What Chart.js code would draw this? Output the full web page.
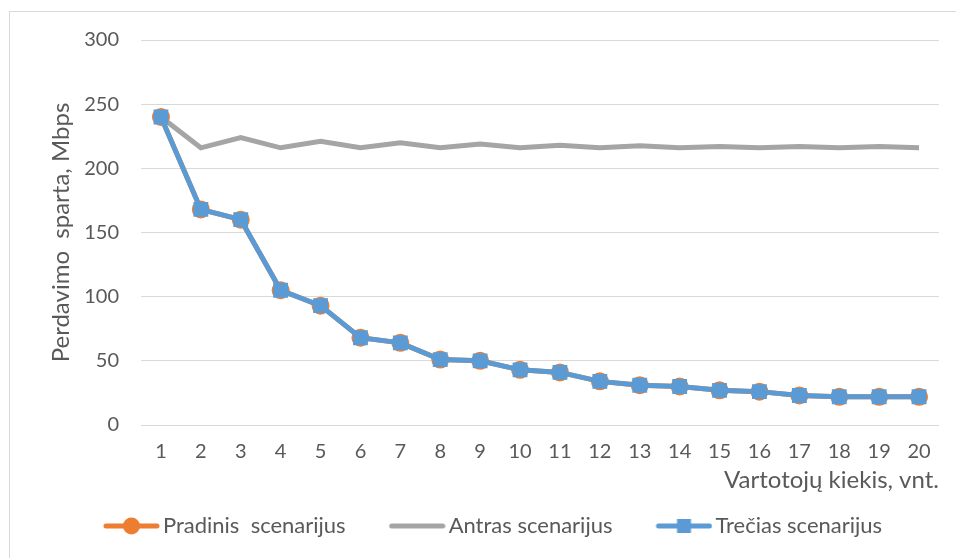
<!doctype html><html lang="lt">
<head>
<meta charset="utf-8">
<title>Perdavimo sparta</title>
<script src="https://cdn.jsdelivr.net/npm/chart.js@4"></script>
<style>
html,body{margin:0;padding:0;background:#fff}
#wrap{position:relative;width:956px;height:558px;overflow:hidden}
#frame{position:absolute;left:9px;top:11px;width:1000px;height:600px;border-left:1px solid #d9d9d9;border-top:1px solid #d9d9d9}
#c{position:absolute;left:0;top:0}
</style>
</head>
<body>
<div id="wrap"><div id="frame"></div><canvas id="c" width="956" height="558"></canvas></div>
<script>
// duomenys
const vartotojai=['1','2','3','4','5','6','7','8','9','10','11','12','13','14','15','16','17','18','19','20'];
const pradinis=[240,168,160,105,93,68,64,51,50,43,41,34,31,30,27,26,23,22,22,22];
const antras=[240,216,224,216,221,216,220,216,219,216,218,216,217.5,216,217,216,217,216,217,216];
const trecias=[240,168,160,105,93,68,64,51,50,43,41,34,31,30,27,26,23,22,22,22];
const yTicks=[0,50,100,150,200,250,300];

const ORANGE='#ED7D31',GRAY='#A5A5A5',BLUE='#5B9BD5',TXT='#595959';
const FONT='Lato';

// legendos ikonos: linija + žymeklis, kairėje tuščia vieta
function icon(color,mark){const cv=document.createElement('canvas');cv.width=88;cv.height=20;const x=cv.getContext('2d');const o=31;
x.strokeStyle=color;x.lineWidth=5;x.lineCap='round';x.beginPath();x.moveTo(o+3,10);x.lineTo(o+54,10);x.stroke();x.fillStyle=color;
if(mark==='circle'){x.beginPath();x.arc(o+28.5,10,8.5,0,Math.PI*2);x.fill()}
if(mark==='rect'){x.fillRect(o+21.5,3,14,14)}
return cv}
const icons=[icon(ORANGE,'circle'),icon(GRAY,null),icon(BLUE,'rect')];

new Chart(document.getElementById('c'),{type:'line',
data:{labels:vartotojai,datasets:[
{label:'Pradinis  scenarijus',data:pradinis,borderColor:ORANGE,backgroundColor:ORANGE,borderWidth:5,pointRadius:9,pointStyle:'circle',pointBorderWidth:0,order:2},
{label:'Antras scenarijus',data:antras,borderColor:GRAY,backgroundColor:GRAY,borderWidth:5,pointRadius:0,order:1},
{label:'Trečias scenarijus',data:trecias,borderColor:BLUE,backgroundColor:BLUE,borderWidth:5,pointRadius:10.5,pointStyle:'rect',pointBorderWidth:0,order:0}]},
options:{responsive:false,animation:false,
layout:{padding:{left:23,right:17,top:40,bottom:11}},
plugins:{tooltip:{enabled:false},
legend:{position:'bottom',labels:{font:{family:FONT,size:22},color:TXT,usePointStyle:true,pointStyleWidth:72,padding:20,
sort:(a,b)=>a.datasetIndex-b.datasetIndex,
generateLabels:ch=>ch.data.datasets.map((d,i)=>({text:d.label,datasetIndex:i,pointStyle:icons[i],fillStyle:d.borderColor,strokeStyle:d.borderColor,fontColor:TXT,lineWidth:0,hidden:false}))}}},
scales:{
x:{offset:true,grid:{display:false,drawTicks:false},border:{display:false},
ticks:{font:{family:FONT,size:20},color:TXT,padding:15,maxRotation:0,autoSkip:false},
title:{display:true,text:'Vartotojų kiekis, vnt.',align:'end',font:{family:FONT,size:24},color:TXT,padding:{top:0,bottom:0}},
afterFit:s=>{s.height=70}},
y:{min:0,max:300,afterBuildTicks:s=>{s.ticks=yTicks.map(v=>({value:v}))},
grid:{color:'#d9d9d9',lineWidth:1,drawTicks:false},border:{display:false},
ticks:{font:{family:FONT,size:20},color:TXT,padding:22},
title:{display:true,text:'Perdavimo  sparta, Mbps',font:{family:FONT,size:24},color:TXT,padding:{top:24,bottom:0}},
afterFit:s=>{s.width=118}}}}});
</script>
</body></html>
